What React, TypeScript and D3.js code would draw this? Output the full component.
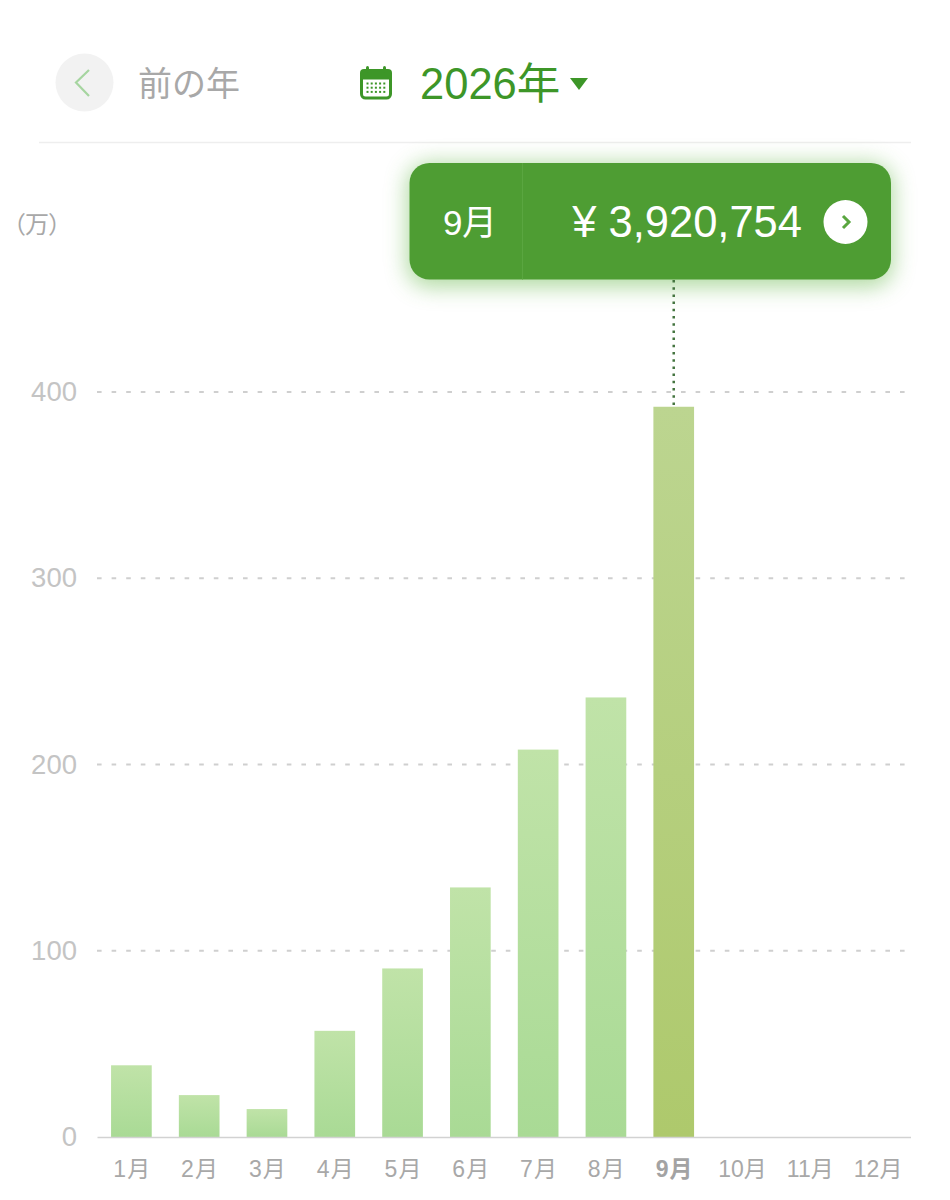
import React from "react";
import * as d3 from "d3";

const months = ["1月","2月","3月","4月","5月","6月","7月","8月","9月","10月","11月","12月"];
const values = [38.5,22.5,15,57,90.5,134,208,236,392.0754,0,0,0];
const yTicks = [0,100,200,300,400];
const selectedMonth = "9月";
const amountLabel = "¥ 3,920,754";

const SANS = '"Liberation Sans","Noto Sans CJK JP",sans-serif';
const CJK = '"Noto Sans CJK JP","Liberation Sans",sans-serif';

export default function App() {
  const x = d3.scaleBand<string>().domain(months).range([97.5, 911]).paddingInner(0.4).paddingOuter(0.2);
  const y = d3.scaleLinear().domain([0, 400]).range([1137, 392]);
  const bw = x.bandwidth();
  const selX = (x(selectedMonth) as number) + bw / 2;
  const selVal = values[months.indexOf(selectedMonth)];
  const dots: [number, number][] = [];
  for (let r = 0; r < 3; r++) for (let c = 0; c < 5; c++) dots.push([366.5 + c * 4.2, 82.5 + r * 4.2]);
  return (
    <svg width={950} height={1200} style={{ position: "absolute", left: 0, top: 0, background: "#fff" }}>
      <defs>
        <linearGradient id="barG" x1="0" y1="0" x2="0" y2="1">
          <stop offset="0" stopColor="#c0e3a8" />
          <stop offset="1" stopColor="#a9da95" />
        </linearGradient>
        <linearGradient id="barS" x1="0" y1="0" x2="0" y2="1">
          <stop offset="0" stopColor="#bcd590" />
          <stop offset="1" stopColor="#aec96c" />
        </linearGradient>
        <filter id="glow" x="-15%" y="-50%" width="130%" height="200%">
          <feGaussianBlur stdDeviation="11" />
        </filter>
      </defs>

      {/* header */}
      <ellipse cx={84.5} cy={82.5} rx={29} ry={29} fill="#f2f2f2" />
      <path d="M89 70 L76 82.5 L89 96" fill="none" stroke="#a6d5a0" strokeWidth={2.2} />
      <text x={138} y={96} fontFamily={CJK} fontSize={34} fill="#a8a8a8">前の年</text>
      <rect x={361.5} y={72} width={29} height={26} rx={4} fill="#fff" stroke="#3d9628" strokeWidth={3} />
      <path d="M360 79.5 V73 a4 4 0 0 1 4 -4 H388 a4 4 0 0 1 4 4 V79.5 Z" fill="#3d9628" />
      <rect x={366} y={66} width={3} height={7} rx={1.5} fill="#3d9628" />
      <rect x={383} y={66} width={3} height={7} rx={1.5} fill="#3d9628" />
      {dots.map(([a, b], i) => <rect key={i} x={a} y={b} width={2} height={2} fill="#3d9628" />)}
      <text x={420} y={99} fontFamily={SANS} fontSize={43.5} fill="#3d9628">2026年</text>
      <path d="M570 78 H588 L579 90 Z" fill="#3d9628" />
      <line x1={39} x2={911} y1={142.5} y2={142.5} stroke="#eeeeee" strokeWidth={1.5} />

      {/* y unit */}
      <text x={2} y={233} fontFamily={CJK} fontSize={24} fill="#a8a8a8" letterSpacing={-1}>（万）</text>

      {/* grid and y axis */}
      {yTicks.map((t) => (
        <g key={t}>
          {t > 0 && (
            <line x1={97} x2={908} y1={y(t)} y2={y(t)} stroke="#cfcfcf" strokeWidth={2} strokeDasharray="4.6 10" />
          )}
          <text x={77} y={y(t) + 9} textAnchor="end" fontFamily={SANS} fontSize={27.5} fill="#c4c4c4">{t}</text>
        </g>
      ))}

      {/* bars */}
      {months.map((m, i) =>
        values[i] > 0 ? (
          <rect key={m} x={x(m)} y={y(values[i])} width={bw} height={y(0) - y(values[i])}
            fill={m === selectedMonth ? "url(#barS)" : "url(#barG)"} />
        ) : null
      )}
      <line x1={97.5} x2={911} y1={1137.5} y2={1137.5} stroke="#d2d2d2" strokeWidth={1.5} />

      {/* x labels */}
      {months.map((m) => (
        <text key={m} x={(x(m) as number) + bw / 2 + 1} y={1177} textAnchor="middle" fontFamily={SANS}
          fontSize={23} fontWeight={m === selectedMonth ? 700 : 400} letterSpacing={m.length === 2 ? 1.2 : 0}
          fill={m === selectedMonth ? "#a3a3a3" : "#a8a8a8"}>{m}</text>
      ))}

      {/* tooltip */}
      <rect x={407} y={163} width={486} height={124} rx={22} fill="#62b545" opacity={0.5} filter="url(#glow)" />
      <line x1={selX} x2={selX} y1={280} y2={y(selVal)} stroke="#44743f" strokeWidth={2.5} strokeDasharray="2.5 4.7" />
      <rect x={409.5} y={163} width={481.5} height={116.5} rx={20} fill="#4e9d33" />
      <line x1={522.5} x2={522.5} y1={163} y2={279.5} stroke="#5aa640" strokeWidth={1} />
      <text x={443} y={235} fontFamily={SANS} fontSize={35} fill="#fff" letterSpacing={-0.5}>{selectedMonth}</text>
      <text x={802} y={237} textAnchor="end" fontFamily={SANS} fontSize={43.5} fill="#fff">{amountLabel}</text>
      <circle cx={845.5} cy={222} r={22} fill="#fff" />
      <path d="M843 216 L849 222 L843 228" fill="none" stroke="#5aa640" strokeWidth={3} />
    </svg>
  );
}
